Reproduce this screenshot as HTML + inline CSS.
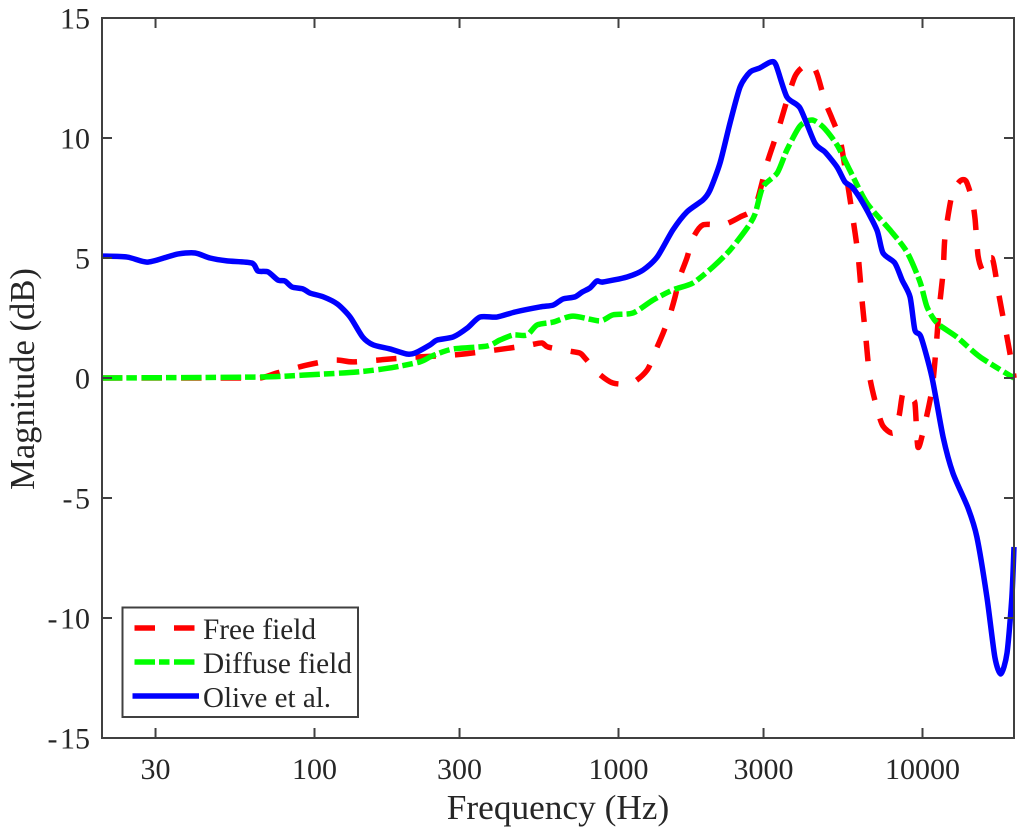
<!DOCTYPE html>
<html lang="en">
<head>
<meta charset="utf-8">
<title>Magnitude vs Frequency</title>
<style>
html,body{margin:0;padding:0;background:#fff;width:1024px;height:832px;overflow:hidden}
svg{display:block}
text{font-family:"Liberation Serif",serif;fill:#262626;font-kerning:none}
</style>
</head>
<body>
<svg id="chart" xmlns="http://www.w3.org/2000/svg" width="1024" height="832" viewBox="0 0 1024 832">
  <rect x="0" y="0" width="1024" height="832" fill="#fff"/>
  <g id="curves"></g>
  <g id="axes"></g>
  <text x="558" y="819" font-size="35.3" text-anchor="middle">Frequency (Hz)</text>
  <text x="0" y="0" font-size="34.6" text-anchor="middle" transform="translate(34 379) rotate(-90)">Magnitude (dB)</text>
  <g>
    <rect x="122.5" y="607.5" width="235.5" height="109.5" fill="#fff" stroke="#404040" stroke-width="2"/>
    <line x1="134.5" y1="628" x2="195" y2="628" stroke="#ff0000" stroke-width="5.5" stroke-dasharray="20.5 19"/>
    <text x="203" y="639" font-size="29.3">Free field</text>
    <line x1="134.5" y1="662" x2="195" y2="662" stroke="#00ff00" stroke-width="5.5" stroke-dasharray="20.5 4 10.5 4.5"/>
    <text x="203" y="673" font-size="29.3">Diffuse field</text>
    <line x1="132.5" y1="696" x2="199" y2="696" stroke="#0000ff" stroke-width="5.5"/>
    <text x="203" y="707" font-size="29">Olive et al.</text>
  </g>
</svg>
<script>
const xTicks = [30, 100, 300, 1000, 3000, 10000];
const yTicks = [-15, -10, -5, 0, 5, 10, 15];

const freeFreq = [20,54,66.2,75.3,94.4,117,134,177,222,286,330,440,512,560,586,682,746,776,857,959,1107,1242,1318,1403,1476,1535,1592,1679,1758,1897,2208,2512,2812,3083,3350,3811,4266,4498,4775,5035,5358,5598,5861,6138,6324,6516,6715,7079,7413,8000,8375,8630,9100,9441,9661,10110,10740,11070,11320,11690,11860,12500,13270,13900,14550,14890,15240,15810,16290,16940,17300,17700,18240,18970,19860,20000];
const freeDb = [0,0,0,0.21,0.54,0.75,0.67,0.79,0.88,0.96,1.04,1.25,1.38,1.46,1.29,1.13,1.04,0.83,0.21,-0.21,-0.21,0.33,1.08,1.88,2.63,3.38,4.21,5,5.83,6.38,6.38,6.71,7.13,8.96,10.33,12.58,13.1,12.67,11.54,10.83,9.92,8.54,6.92,5.13,3.25,1.63,0,-1.25,-2,-2.29,-1.58,-0.63,-1,-1.04,-2.88,-2.08,-0.5,1.17,2.75,4.42,5.88,7.63,8.2,8.21,7.46,6.63,5.08,4.46,4.9,5,4.5,3.71,2.8,1.7,0.3,0];

const diffuseFreq = [20,64.7,91.7,138,177,222,240,253,286,369,407,450,500,540,610,708,869,959,1117,1300,1510,1758,2046,2328,2649,2812,2985,3327,3581,3954,4335,4710,5236,5781,6561,7816,8892,9817,10350,11170,12970,15450,20000];
const diffuseDb = [0,0.04,0.12,0.25,0.42,0.67,0.88,1,1.21,1.33,1.58,1.79,1.79,2.21,2.33,2.58,2.38,2.63,2.71,3.25,3.67,3.96,4.63,5.33,6.25,6.83,7.96,8.54,9.5,10.5,10.75,10.46,9.71,8.63,7.29,6.17,5.25,4,2.96,2.29,1.71,0.88,0];

const oliveFreq = [20,24.2,28.1,32.7,35.6,40.5,45.3,51.5,62.2,65.1,70.3,75.8,80,84.4,91.7,96.6,107,119,131,144,156,177,201,214,240,253,286,318,350,398,457,552,610,656,719,759,805,849,889,1067,1205,1340,1510,1679,1897,2000,2158,2328,2512,2710,2917,3170,3296,3581,3954,4426,4775,5236,5559,5861,6368,7079,7413,8110,8570,9100,9441,9886,10740,11690,12590,14120,15100,16290,17300,18110,18970,19680,20000];
const oliveDb = [5.08,5.04,4.83,5.04,5.17,5.21,5,4.88,4.79,4.46,4.42,4.08,4.04,3.79,3.71,3.54,3.38,3.08,2.54,1.71,1.38,1.21,1,1.04,1.38,1.58,1.71,2.08,2.54,2.54,2.75,2.96,3.04,3.29,3.38,3.58,3.75,4.04,4,4.21,4.5,5.04,6.17,6.92,7.42,7.83,8.96,10.63,12.13,12.75,12.92,13.17,13.04,11.71,11.25,9.79,9.42,8.79,8.17,7.96,7.29,6.17,5.21,4.79,4.08,3.38,2,1.71,0.04,-2.46,-3.96,-5.42,-6.63,-9.13,-11.63,-12.33,-11.46,-9.13,-7.04];

const plotLeft = 102, plotRight = 1014, plotTop = 18, plotBottom = 738;
const xMin = 20, xMax = 20000, yMin = -15, yMax = 15;

function xScale(f) {
  return plotLeft + (Math.log10(f) - Math.log10(xMin)) / (Math.log10(xMax) - Math.log10(xMin)) * (plotRight - plotLeft);
}
function yScale(v) {
  return plotBottom - (v - yMin) / (yMax - yMin) * (plotBottom - plotTop);
}
function curvePath(freqs, values) {
  const pts = freqs.map(function (f, i) { return [xScale(f), yScale(values[i])]; });
  let d = 'M' + pts[0][0].toFixed(2) + ' ' + pts[0][1].toFixed(2);
  for (let i = 0; i < pts.length - 1; i++) {
    const p0 = pts[Math.max(i - 1, 0)], p1 = pts[i], p2 = pts[i + 1], p3 = pts[Math.min(i + 2, pts.length - 1)];
    const k = 8;
    const c1x = p1[0] + (p2[0] - p0[0]) / k, c1y = p1[1] + (p2[1] - p0[1]) / k;
    const c2x = p2[0] - (p3[0] - p1[0]) / k, c2y = p2[1] - (p3[1] - p1[1]) / k;
    d += 'C' + c1x.toFixed(2) + ' ' + c1y.toFixed(2) + ' ' + c2x.toFixed(2) + ' ' + c2y.toFixed(2) + ' ' + p2[0].toFixed(2) + ' ' + p2[1].toFixed(2);
  }
  return d;
}
const NS = 'http://www.w3.org/2000/svg';
const curves = document.getElementById('curves');
const axes = document.getElementById('axes');

function makeEl(tag, attrs, parent) {
  const el = document.createElementNS(NS, tag);
  Object.keys(attrs).forEach(function (k) { el.setAttribute(k, attrs[k]); });
  parent.appendChild(el);
  return el;
}

const freeLine = makeEl('path', { d: curvePath(freeFreq, freeDb), fill: 'none', stroke: '#ff0000', 'stroke-width': 5.5, 'stroke-dasharray': '20.5 19' }, curves);



const diffuseLine = makeEl('path', { d: curvePath(diffuseFreq, diffuseDb), fill: 'none', stroke: '#00ff00', 'stroke-width': 5.5, 'stroke-dasharray': '20.5 4 10.5 4.5' }, curves);



const oliveLine = makeEl('path', { d: curvePath(oliveFreq, oliveDb), fill: 'none', stroke: '#0000ff', 'stroke-width': 5.5, 'stroke-linejoin': 'round' }, curves);



const frame = makeEl('rect', { x: plotLeft, y: plotTop, width: plotRight - plotLeft, height: plotBottom - plotTop, fill: 'none', stroke: '#404040', 'stroke-width': 2 }, axes);



xTicks.forEach(function (t) {
  const x = xScale(t);
  const bottomTick = makeEl('line', { x1: x, x2: x, y1: plotBottom, y2: plotBottom - 10, stroke: '#404040', 'stroke-width': 2 }, axes);
  
  
  const topTick = makeEl('line', { x1: x, x2: x, y1: plotTop, y2: plotTop + 10, stroke: '#404040', 'stroke-width': 2 }, axes);
  
  
  const label = makeEl('text', { x: x, y: 779, 'font-size': 30, 'text-anchor': 'middle' }, axes);
  
  
  label.textContent = String(t);
});

yTicks.forEach(function (t) {
  const y = yScale(t);
  const leftTick = makeEl('line', { x1: plotLeft, x2: plotLeft + 10, y1: y, y2: y, stroke: '#404040', 'stroke-width': 2 }, axes);
  
  
  const rightTick = makeEl('line', { x1: plotRight, x2: plotRight - 10, y1: y, y2: y, stroke: '#404040', 'stroke-width': 2 }, axes);
  
  
  const label = makeEl('text', { x: 90, y: y + 10.5, 'font-size': 30, 'text-anchor': 'end' }, axes);
  
  
  if (t < 0) {
    const minus = makeEl('tspan', { 'letter-spacing': '2.5' }, label);
    minus.textContent = '-';
    label.appendChild(document.createTextNode(String(-t)));
  } else {
    label.textContent = String(t);
  }
});
</script>
</body>
</html>
